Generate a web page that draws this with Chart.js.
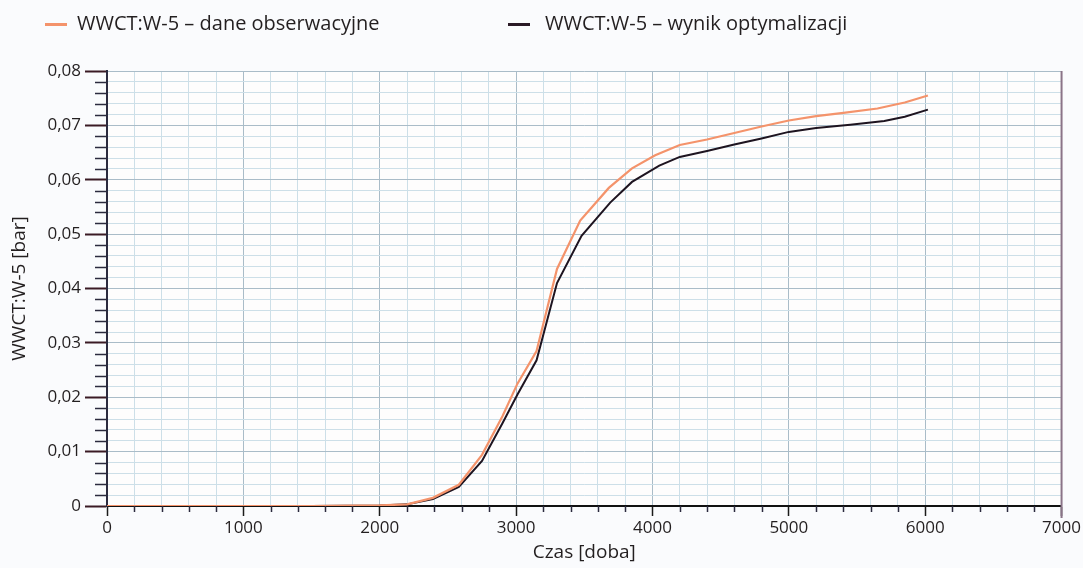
<!DOCTYPE html>
<html>
<head>
<meta charset="utf-8">
<script src="https://cdn.jsdelivr.net/npm/chart.js@4.4.1/dist/chart.umd.min.js"></script>
<style>
  body { margin: 0; background: #fafbfd; }
  #wrap { position: relative; width: 1083px; height: 568px; }
  .leg { position: absolute; top: 10px; font: 20px 'Open Sans', sans-serif; color: #231f20; white-space: nowrap; line-height: 26px; }
  .leg i { display: inline-block; width: 22px; height: 3px; vertical-align: middle; }
</style>
</head>
<body>
<div id="wrap">
  <canvas id="chart" width="1083" height="568"></canvas>
  <div class="leg" id="leg1" style="left:45px"><i style="background:#f4936b;margin-right:10px"></i><span>WWCT:W-5 – dane obserwacyjne</span></div>
  <div class="leg" id="leg2" style="left:508px"><i style="background:#2a1a26;margin-right:15px"></i><span>WWCT:W-5 – wynik optymalizacji</span></div>
</div>
<script>
// czas [doba] i wartości WWCT
const obsDays = [0, 500, 1000, 1500, 2000, 2200, 2390, 2580, 2750, 2900, 3010, 3150, 3300, 3470, 3680, 3850, 4020, 4200, 4400, 4600, 4800, 5000, 5200, 5400, 5650, 5850, 6020];
const obsValues = [0, 0, 0, 0, 0.0001, 0.0003, 0.0015, 0.0039, 0.0094, 0.0165, 0.0225, 0.0285, 0.0436, 0.0525, 0.0585, 0.0621, 0.0645, 0.0664, 0.0674, 0.0686, 0.0698, 0.0709, 0.0717, 0.0723, 0.0731, 0.0742, 0.0755];

const optDays = [0, 500, 1000, 1500, 2000, 2200, 2390, 2580, 2750, 2900, 3010, 3150, 3300, 3480, 3690, 3850, 4050, 4200, 4400, 4600, 4800, 5000, 5200, 5450, 5700, 5850, 6020];
const optValues = [0, 0, 0, 0, 0.0001, 0.0003, 0.0013, 0.0035, 0.0083, 0.0152, 0.0205, 0.0268, 0.0410, 0.0497, 0.0558, 0.0596, 0.0626, 0.0642, 0.0653, 0.0665, 0.0676, 0.0688, 0.0695, 0.0701, 0.0708, 0.0716, 0.0729];

const xMax = 7000, xStep = 200, xMajor = 1000;
const yMax = 0.08, yStep = 0.002, yMajor = 0.01;

const labels = ['WWCT:W-5 – dane obserwacyjne', 'WWCT:W-5 – wynik optymalizacji'];

const isMajorY = v => Math.abs(Math.round(v / yMajor) * yMajor - v) < 1e-7;
const isMajorX = v => v % xMajor === 0;

// krótkie podziałki pomocnicze na osiach
const minorTicks = {
  id: 'minorTicks',
  afterDraw(chart) {
    const { ctx, chartArea, scales } = chart;
    ctx.save();
    ctx.lineWidth = 1.5;
    ctx.strokeStyle = '#2b2a3e';
    scales.y.ticks.forEach(t => {
      if (isMajorY(t.value)) return;
      const y = Math.round(scales.y.getPixelForValue(t.value)) + 0.5;
      ctx.beginPath();
      ctx.moveTo(chartArea.left - 12, y);
      ctx.lineTo(chartArea.left, y);
      ctx.stroke();
    });
    scales.x.ticks.forEach(t => {
      if (isMajorX(t.value)) return;
      const x = Math.round(scales.x.getPixelForValue(t.value)) + 0.5;
      ctx.beginPath();
      ctx.moveTo(x, chartArea.bottom);
      ctx.lineTo(x, chartArea.bottom + 6);
      ctx.stroke();
    });
    // prawa krawędź
    ctx.strokeStyle = '#8a7488';
    ctx.lineWidth = 2;
    ctx.beginPath();
    ctx.moveTo(chartArea.right, chartArea.top);
    ctx.lineTo(chartArea.right, chartArea.bottom + 12);
    ctx.stroke();
    ctx.restore();
  }
};

const plotBg = {
  id: 'plotBg',
  beforeDraw(chart) {
    const { ctx, chartArea } = chart;
    ctx.save();
    ctx.fillStyle = '#fefdfd';
    ctx.fillRect(chartArea.left, chartArea.top, chartArea.right - chartArea.left, chartArea.bottom - chartArea.top);
    ctx.restore();
  }
};

new Chart(document.getElementById('chart'), {
  type: 'line',
  data: {
    datasets: [
      {
        label: labels[0],
        data: obsDays.map((d, i) => ({ x: d, y: obsValues[i] })),
        borderColor: '#f4936b',
        borderWidth: 2.2,
        pointRadius: 0,
        tension: 0
      },
      {
        label: labels[1],
        data: optDays.map((d, i) => ({ x: d, y: optValues[i] })),
        borderColor: '#1e1420',
        borderWidth: 2,
        pointRadius: 0,
        tension: 0
      }
    ]
  },
  options: {
    responsive: false,
    animation: false,
    layout: { padding: { left: 0, top: 71, right: 19, bottom: 0 } },
    plugins: {
      legend: { display: false },
      tooltip: { enabled: false }
    },
    scales: {
      x: {
        type: 'linear',
        min: 0,
        max: xMax,
        afterFit: s => { s.height = 62; },
        border: { color: '#111', width: 2 },
        grid: {
          color: c => isMajorX(c.tick.value) ? '#aabcc8' : '#cddfe8',
          lineWidth: 1,
          tickLength: 10,
          tickColor: c => isMajorX(c.tick.value) ? '#1a1a1a' : 'transparent',
          tickWidth: 1.5
        },
        ticks: {
          stepSize: xStep,
          autoSkip: false,
          maxRotation: 0,
          padding: 2,
          color: '#231f20',
          font: { family: "'Open Sans', sans-serif", size: 17 },
          callback: v => isMajorX(v) ? String(v) : ''
        },
        title: {
          display: true,
          text: 'Czas [doba]',
          color: '#231f20',
          font: { family: "'Open Sans', sans-serif", size: 19 },
          padding: { top: 0, bottom: 4 }
        }
      },
      y: {
        min: 0,
        max: yMax,
        afterFit: s => { s.width = 107; },
        border: { color: '#2b2a3e', width: 2 },
        grid: {
          color: c => isMajorY(c.tick.value) ? '#aabcc8' : '#cddfe8',
          lineWidth: 1,
          tickLength: 22,
          tickColor: c => isMajorY(c.tick.value) ? '#3a1a24' : 'transparent',
          tickWidth: 2
        },
        ticks: {
          stepSize: yStep,
          autoSkip: false,
          padding: 4,
          color: '#231f20',
          font: { family: "'Open Sans', sans-serif", size: 17 },
          callback: v => {
            if (!isMajorY(v)) return '';
            if (Math.abs(v) < 1e-9) return '0';
            return v.toFixed(2).replace('.', ',');
          }
        },
        title: {
          display: true,
          text: 'WWCT:W-5 [bar]',
          color: '#231f20',
          font: { family: "'Open Sans', sans-serif", size: 19 },
          padding: { top: 8, bottom: 0 }
        }
      }
    }
  },
  plugins: [plotBg, minorTicks]
});
</script>
</body>
</html>
